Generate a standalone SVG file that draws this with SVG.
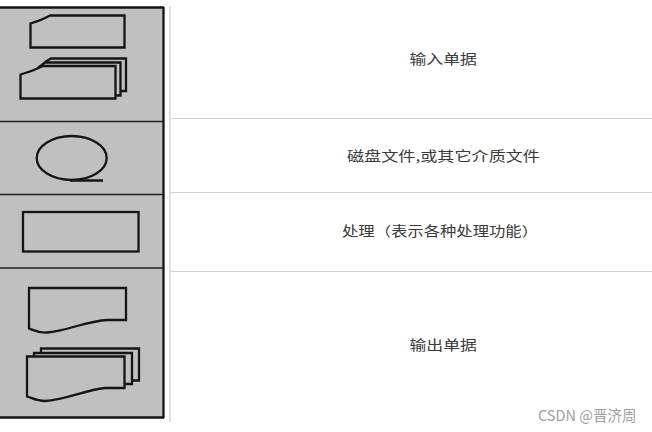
<svg xmlns="http://www.w3.org/2000/svg" width="652" height="432" viewBox="0 0 652 432">
<style>
.s{fill:none;stroke:#151515;stroke-width:2.300}
.c{fill:#c0c0c0;stroke:#151515;stroke-width:2.300}
.d{fill:none;stroke:#222;stroke-width:1.500}
.l{fill:none;stroke:#d4d4d4;stroke-width:1}
.t{font-family:"Noto Sans CJK SC","Liberation Sans",sans-serif;font-size:13.500px;fill:#3a3a3a}
</style>
<rect width="652" height="432" fill="#fff"/>
<rect x="0" y="8" width="163.500" height="409.500" fill="#c0c0c0"/>
<g id="connectors">
<path class="s" d="M0 7.500H164M163.500 7V418M0 417.500H164"/>
<path class="d" d="M0 121.500H163M0 194.500H163M0 268H163"/>
<path d="M170 6V422" stroke="#d8d8d8" stroke-width="1.500" fill="none"/>
<path class="l" d="M171 118.500H652M171 192.500H652M171 271.500H652"/>
</g>
<g id="input">
<path class="s" d="M30.500 47.500V23.500Q42 20 50 15.500H124.500V47.500Z"/>
<path class="s" d="M45 62L51 58.500H126V91H120"/>
<path class="c" d="M38 68L45 62.500H120.500V95.500H115"/>
<path class="c" d="M20.500 98.500V74.500Q33 71 43 66H115.500V98.500Z"/>
<text class="t" x="409.500" y="64" textLength="67.500" lengthAdjust="spacingAndGlyphs">输入单据</text>
</g>
<g id="disk">
<ellipse class="s" cx="71.700" cy="158" rx="35" ry="22" stroke-width="2"/>
<path class="s" d="M70 180.500H103"/>
<text class="t" x="347" y="161" textLength="193" lengthAdjust="spacingAndGlyphs">磁盘文件,或其它介质文件</text>
</g>
<g id="process">
<rect class="s" x="23" y="212" width="115.500" height="39.500"/>
<text class="t" x="342" y="236" textLength="196" lengthAdjust="spacingAndGlyphs">处理（表示各种处理功能）</text>
</g>
<g id="output">
<path class="s" d="M29 288H126V320H108C85 321 68 331 47 332.500C38 333 33 330 29 328.500Z"/>
<path class="s" d="M41 353V348.500H139V380.500H132"/>
<path class="c" d="M34 356V353H132V384H125"/>
<path class="c" d="M27 356.500H124.500V388H105C85 390 65 400 45 401C37 401 32 398 27 396.500Z"/>
<text class="t" x="409.500" y="350" textLength="67.500" lengthAdjust="spacingAndGlyphs">输出单据</text>
</g>
<text x="538" y="420.500" font-family="'Noto Sans CJK SC','Liberation Sans',sans-serif" font-size="14.500" fill="#a0a0a0">CSDN @晋济周</text>
</svg>
